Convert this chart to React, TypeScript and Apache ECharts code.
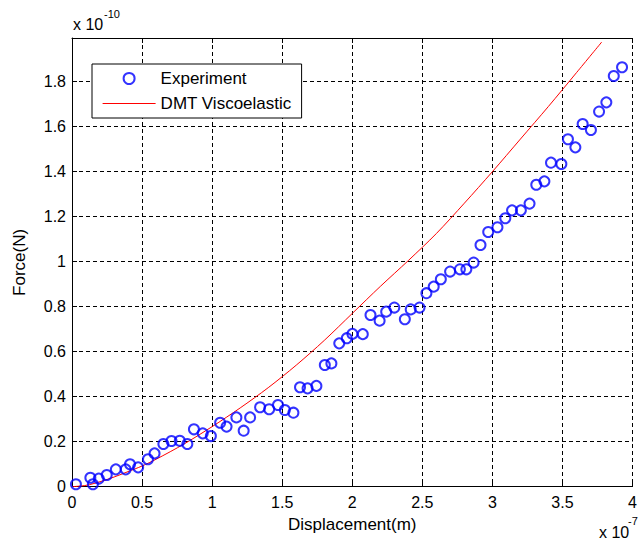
import React, { useEffect, useRef } from "react";
import * as echarts from "echarts";

// Experiment (x in 1e-7 m, force in 1e-10 N)
const expX = [
  0.028, 0.131, 0.149, 0.191, 0.248, 0.313, 0.383, 0.414, 0.472, 0.542, 0.589, 0.652, 0.71, 0.769, 0.823,
  0.87, 0.933, 0.991, 1.057, 1.103, 1.173, 1.225, 1.271, 1.342, 1.407, 1.47, 1.519, 1.58, 1.627, 1.681,
  1.744, 1.804, 1.851, 1.907, 1.961, 2.001, 2.075, 2.13, 2.195, 2.242, 2.3, 2.375, 2.417, 2.48, 2.529,
  2.581, 2.632, 2.698, 2.768, 2.814, 2.866, 2.915, 2.97, 3.036, 3.092, 3.14, 3.203, 3.265, 3.313, 3.371,
  3.418, 3.492, 3.539, 3.592, 3.644, 3.703, 3.761, 3.813, 3.866, 3.925,
];
const expF = [
  0.011, 0.04, 0.011, 0.036, 0.052, 0.077, 0.077, 0.1, 0.086, 0.122, 0.148, 0.19, 0.203, 0.204, 0.19,
  0.255, 0.237, 0.225, 0.284, 0.267, 0.308, 0.249, 0.308, 0.353, 0.344, 0.363, 0.341, 0.329, 0.442, 0.437,
  0.448, 0.541, 0.548, 0.637, 0.66, 0.679, 0.678, 0.763, 0.738, 0.778, 0.796, 0.744, 0.788, 0.796, 0.86,
  0.889, 0.922, 0.956, 0.966, 0.966, 0.996, 1.074, 1.132, 1.153, 1.193, 1.228, 1.228, 1.258, 1.342, 1.357,
  1.44, 1.434, 1.544, 1.508, 1.612, 1.585, 1.667, 1.708, 1.825, 1.864,
];

// DMT Viscoelastic model curve
const dmtX = [0, 0.1, 0.2, 0.3, 0.4, 0.5, 0.6, 0.8, 1.0, 1.2, 1.4, 1.6, 1.8, 2.0, 2.2, 2.4, 2.6, 2.8, 3.0, 3.2, 3.4, 3.6, 3.78];
const dmtF = [0, 0.006, 0.022, 0.043, 0.067, 0.092, 0.122, 0.19, 0.267, 0.35, 0.44, 0.54, 0.65, 0.77, 0.89, 1.005, 1.125, 1.26, 1.4, 1.545, 1.69, 1.84, 1.976];

const xTicks = ["0", "0.5", "1", "1.5", "2", "2.5", "3", "3.5", "4"];
const yTicks = ["0", "0.2", "0.4", "0.6", "0.8", "1", "1.2", "1.4", "1.6", "1.8"];

const FONT = "'Liberation Sans', Arial, sans-serif";

export default function App() {
  const ref = useRef<HTMLDivElement>(null);
  useEffect(() => {
    if (!ref.current) return;
    const chart = echarts.init(ref.current, undefined, { renderer: "svg" });
    const gridTop = 38;
    const gridH = 448.7;
    const yMax = 1.994;
    const expData = expX.map((x, i) => [x, expF[i]]);
    const dmtData = dmtX.map((x, i) => [x, dmtF[i]]);
    const isTick = (v: number, step: number) => Math.abs(v / step - Math.round(v / step)) < 1e-6;
    chart.setOption({
      animation: false,
      backgroundColor: "#ffffff",
      textStyle: { fontFamily: FONT },
      grid: { left: 72, top: gridTop, width: 569, height: gridH, containLabel: false },
      legend: {
        orient: "vertical",
        left: 92,
        top: 64,
        padding: [6, 10, 6, 10],
        itemGap: 8,
        itemWidth: 53,
        itemHeight: 11,
        backgroundColor: "#ffffff",
        borderColor: "#000000",
        borderWidth: 1,
        textStyle: { fontFamily: FONT, fontSize: 17, color: "#000" },
        data: [
          { name: "Experiment" },
          {
            name: "DMT Viscoelastic",
            itemStyle: { opacity: 0 },
            lineStyle: { width: 1.2, color: "#ff0000" },
          },
        ],
      },
      xAxis: [
        {
          type: "value",
          min: 0,
          max: 4,
          interval: 0.5,
          name: "Displacement(m)",
          nameLocation: "middle",
          nameGap: 27,
          nameTextStyle: { fontFamily: FONT, fontSize: 17, color: "#000" },
          axisLine: { show: true, onZero: false, lineStyle: { color: "#000", width: 1 } },
          axisTick: { show: true, inside: true, length: 5, lineStyle: { color: "#000" } },
          axisLabel: {
            fontFamily: FONT,
            fontSize: 16,
            color: "#000",
            margin: 8,
            formatter: (v: number) => (isTick(v, 0.5) ? xTicks[Math.round(v / 0.5)] ?? "" : ""),
          },
          splitLine: { show: true, lineStyle: { color: "#000", width: 1, type: [4, 3] } },
        },
        {
          type: "value",
          position: "top",
          min: 0,
          max: 4,
          interval: 0.5,
          axisLine: { show: true, onZero: false, lineStyle: { color: "#000", width: 1 } },
          axisTick: { show: true, inside: true, length: 5, lineStyle: { color: "#000" } },
          axisLabel: { show: false },
          splitLine: { show: false },
        },
      ],
      yAxis: {
        type: "value",
        min: 0,
        max: yMax,
        interval: 0.2,
        name: "Force(N)",
        nameLocation: "middle",
        nameGap: 44,
        nameRotate: 90,
        nameTextStyle: { fontFamily: FONT, fontSize: 17, color: "#000" },
        axisLine: { show: true, onZero: false, lineStyle: { color: "#000", width: 1 } },
        axisTick: { show: true, inside: true, length: 5, lineStyle: { color: "#000" } },
        axisLabel: {
          fontFamily: FONT,
          fontSize: 16,
          color: "#000",
          margin: 6,
          showMaxLabel: false,
          formatter: (v: number) => (isTick(v, 0.2) ? yTicks[Math.round(v / 0.2)] ?? "" : ""),
        },
        splitLine: { show: true, lineStyle: { color: "#000", width: 1, type: [4, 3] } },
      },
      graphic: [
        {
          type: "text",
          left: 73,
          top: 16,
          style: { text: "x 10", fontFamily: FONT, fontSize: 16, fill: "#000" },
        },
        {
          type: "text",
          left: 104,
          top: 8,
          style: { text: "-10", fontFamily: FONT, fontSize: 11, fill: "#000" },
        },
        {
          type: "text",
          left: 599,
          top: 524,
          style: { text: "x 10", fontFamily: FONT, fontSize: 16, fill: "#000" },
        },
        {
          type: "text",
          left: 628,
          top: 515,
          style: { text: "-7", fontFamily: FONT, fontSize: 11, fill: "#000" },
        },
      ],
      series: [
        {
          name: "Experiment",
          type: "scatter",
          data: expData,
          symbol: "circle",
          symbolSize: 10,
          itemStyle: { color: "rgba(0,0,0,0)", borderColor: "#0000ff", borderWidth: 2 },
          z: 3,
        },
        {
          name: "DMT Viscoelastic",
          type: "line",
          data: dmtData,
          symbol: "none",
          smooth: 0.3,
          lineStyle: { color: "#ff0000", width: 1 },
          itemStyle: { color: "#ff0000" },
          z: 2,
        },
      ],
    });
    return () => chart.dispose();
  }, []);
  return (
    <div
      ref={ref}
      style={{ position: "fixed", left: 0, top: 0, width: 640, height: 541, background: "#fff" }}
    />
  );
}
